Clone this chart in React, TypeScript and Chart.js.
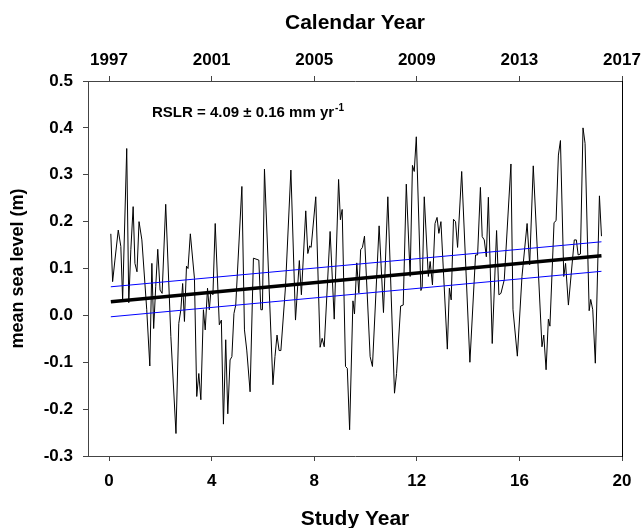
import React, { useEffect, useRef } from "react";
import { Chart, registerables } from "chart.js";

Chart.register(...registerables);

// Monthly mean sea level (m) vs study year (vertices)
const studyYears = [
  0.07, 0.14, 0.23, 0.36, 0.46, 0.53, 0.69, 0.77, 0.85, 0.94,
  1.01, 1.09, 1.17, 1.28, 1.47, 1.59, 1.67, 1.74, 1.82, 1.9,
  1.99, 2.07, 2.21, 2.41, 2.61, 2.72, 2.8, 2.87, 2.94, 3.02,
  3.08, 3.17, 3.33, 3.42, 3.5, 3.58, 3.68, 3.75, 3.84, 3.91,
  3.97, 4.05, 4.14, 4.3, 4.38, 4.46, 4.55, 4.63, 4.72, 4.79,
  4.87, 4.94, 5.18, 5.28, 5.37, 5.5, 5.63, 5.84, 5.92, 5.98,
  6.06, 6.39, 6.47, 6.55, 6.63, 6.7, 6.88, 7.09, 7.27, 7.42,
  7.5, 7.67, 7.75, 7.82, 7.88, 8.06, 8.23, 8.31, 8.39, 8.62,
  8.78, 8.95, 9.02, 9.09, 9.22, 9.29, 9.38, 9.51, 9.57, 9.66,
  9.74, 9.81, 9.88, 9.96, 10.18, 10.27, 10.53, 10.7, 10.87, 11.13,
  11.21, 11.37, 11.47, 11.59, 11.74, 11.83, 11.9, 11.98, 12.16, 12.21,
  12.29, 12.45, 12.52, 12.61, 12.71, 12.79, 12.86, 12.94, 13.19, 13.27,
  13.34, 13.43, 13.51, 13.59, 13.75, 14.07, 14.29, 14.37, 14.48, 14.55,
  14.63, 14.71, 14.79, 14.94, 15.11, 15.2, 15.28, 15.41, 15.67, 15.75,
  15.92, 16.1, 16.3, 16.4, 16.54, 16.88, 16.95, 17.04, 17.13, 17.19,
  17.35, 17.43, 17.52, 17.6, 17.73, 17.8, 17.91, 18.14, 18.22, 18.29,
  18.38, 18.48, 18.56, 18.72, 18.78, 18.86, 18.96, 19.12, 19.2,
];

const seaLevel = [
  0.174, 0.072, 0.118, 0.182, 0.147, 0.033, 0.356, 0.027, 0.14, 0.232,
  0.111, 0.093, 0.2, 0.161, 0.012, -0.108, 0.111, -0.028, 0.061, 0.141,
  0.054, 0.047, 0.237, -0.045, -0.252, -0.017, 0.012, 0.068, -0.013, 0.105,
  0.1, 0.174, 0.079, -0.173, -0.124, -0.18, 0.012, -0.031, 0.058, 0.012,
  0.051, 0.044, 0.196, -0.02, -0.01, -0.232, -0.052, -0.21, -0.095, -0.088,
  0.004, 0.022, 0.275, -0.031, -0.074, -0.163, 0.122, 0.118, 0.012, 0.012,
  0.312, -0.148, -0.088, -0.042, -0.075, -0.075, 0.061, 0.31, -0.01, 0.117,
  0.044, 0.223, 0.132, 0.148, 0.145, 0.253, -0.068, -0.049, -0.067, 0.179,
  -0.008, 0.29, 0.204, 0.226, -0.109, -0.113, -0.244, 0.031, 0.003, 0.112,
  0.048, 0.14, 0.145, 0.169, -0.088, -0.109, 0.191, 0.006, 0.253, -0.166,
  -0.124, 0.02, 0.022, 0.28, 0.083, 0.32, 0.307, 0.381, 0.053, 0.061,
  0.253, 0.083, 0.115, 0.065, 0.196, 0.209, 0.175, 0.2, -0.072, 0.058,
  0.033, 0.205, 0.2, 0.145, 0.307, -0.1, 0.129, 0.129, 0.273, 0.168,
  0.161, 0.125, 0.252, -0.06, 0.181, 0.044, 0.047, 0.076, 0.323, 0.012,
  -0.087, 0.083, 0.196, 0.108, 0.319, -0.067, -0.042, -0.116, -0.008, -0.023,
  0.198, 0.202, 0.342, 0.373, 0.083, 0.111, 0.022, 0.161, 0.161, 0.129,
  0.131, 0.4, 0.367, 0.01, 0.034, 0.012, -0.102, 0.255, 0.169,
];

// Linear trend and its confidence band (end points)
const trendYears = [0.07, 19.2];
const trendFit = [0.029, 0.127];
const trendUpper = [0.061, 0.157];
const trendLower = [-0.003, 0.094];

// Axis ticks
const studyYearTicks = [0, 4, 8, 12, 16, 20];
const calendarYearLabels = ["1997", "2001", "2005", "2009", "2013", "2017"];
const levelTicks = [-0.3, -0.2, -0.1, 0, 0.1, 0.2, 0.3, 0.4, 0.5];
const levelTickLabels = ["-0.3", "-0.2", "-0.1", "0.0", "0.1", "0.2", "0.3", "0.4", "0.5"];

const FONT = '"Liberation Sans", Arial, Helvetica, sans-serif';
const AXIS_COLOR = "#444";

const toPoints = (xs: number[], ys: number[]) => xs.map((x, i) => ({ x, y: ys[i] }));

const textPlugin = {
  id: "textPlugin",
  afterDraw(chart: any) {
    const { ctx, chartArea } = chart;
    const cx = (chartArea.left + chartArea.right) / 2;
    ctx.save();
    ctx.fillStyle = "#000";
    ctx.font = `bold 21px ${FONT}`;
    ctx.textAlign = "center";
    ctx.textBaseline = "alphabetic";
    ctx.fillText("Calendar Year", cx, 29);
    ctx.fillText("Study Year", cx, 525);

    ctx.save();
    ctx.translate(18, (chartArea.top + chartArea.bottom) / 2);
    ctx.rotate(-Math.PI / 2);
    ctx.font = `bold 18px ${FONT}`;
    ctx.textBaseline = "middle";
    ctx.fillText("mean sea level (m)", 0, 0);
    ctx.restore();

    ctx.textAlign = "left";
    ctx.font = `bold 15px ${FONT}`;
    const main = "RSLR = 4.09 \u00B1 0.16 mm yr";
    ctx.fillText(main, 152, 117);
    const w = ctx.measureText(main).width;
    ctx.font = `bold 10px ${FONT}`;
    ctx.fillText("-1", 152 + w + 1, 111);
    ctx.restore();
  },
};

const zeroPad = (s: any) => {
  s.paddingLeft = 0;
  s.paddingRight = 0;
  s.paddingTop = 0;
  s.paddingBottom = 0;
};

export default function App() {
  const ref = useRef<HTMLCanvasElement>(null);

  useEffect(() => {
    if (!ref.current) return;
    const tickFont = { family: FONT, size: 17, weight: "bold" as const };
    const grid = {
      display: true,
      drawOnChartArea: false,
      drawTicks: true,
      tickLength: 5,
      color: AXIS_COLOR,
      lineWidth: 1,
    };
    const border = { display: true, color: AXIS_COLOR, width: 1 };

    const chart = new Chart(ref.current, {
      type: "line",
      data: {
        datasets: [
          {
            data: toPoints(trendYears, trendFit),
            borderColor: "#000",
            borderWidth: 3.5,
            pointRadius: 0,
            xAxisID: "x",
            yAxisID: "y",
          },
          {
            data: toPoints(trendYears, trendUpper),
            borderColor: "#0000ff",
            borderWidth: 1,
            pointRadius: 0,
            xAxisID: "x",
            yAxisID: "y",
          },
          {
            data: toPoints(trendYears, trendLower),
            borderColor: "#0000ff",
            borderWidth: 1,
            pointRadius: 0,
            xAxisID: "x",
            yAxisID: "y",
          },
          {
            data: toPoints(studyYears, seaLevel),
            borderColor: "#000",
            borderWidth: 1,
            pointRadius: 0,
            tension: 0,
            xAxisID: "x",
            yAxisID: "y",
          },
        ],
      },
      options: {
        responsive: false,
        animation: false,
        devicePixelRatio: 1,
        layout: { padding: { left: 0, right: 19, top: 0, bottom: 0 } },
        plugins: {
          legend: { display: false },
          tooltip: { enabled: false },
          title: { display: false },
        },
        scales: {
          x: {
            type: "linear",
            position: "bottom",
            min: -0.82,
            max: 20,
            afterBuildTicks: (s: any) => {
              s.ticks = studyYearTicks.map((v) => ({ value: v }));
            },
            ticks: {
              font: tickFont,
              color: "#000",
              padding: 10,
              maxRotation: 0,
              autoSkip: false,
              callback: (v: any, i: number) => String(studyYearTicks[i]),
            },
            grid,
            border,
            afterFit: (s: any) => {
              s.height = 72;
              zeroPad(s);
            },
          },
          x2: {
            type: "linear",
            position: "top",
            min: -0.82,
            max: 20,
            afterBuildTicks: (s: any) => {
              s.ticks = studyYearTicks.map((v) => ({ value: v }));
            },
            ticks: {
              font: tickFont,
              color: "#000",
              padding: 5,
              maxRotation: 0,
              autoSkip: false,
              callback: (v: any, i: number) => calendarYearLabels[i],
            },
            grid,
            border,
            afterFit: (s: any) => {
              s.height = 81;
              zeroPad(s);
            },
          },
          y: {
            type: "linear",
            position: "left",
            min: -0.3,
            max: 0.5,
            afterBuildTicks: (s: any) => {
              s.ticks = levelTicks.map((v) => ({ value: v }));
            },
            ticks: {
              font: tickFont,
              color: "#000",
              padding: 10,
              autoSkip: false,
              callback: (v: any, i: number) => levelTickLabels[i],
            },
            grid,
            border,
            afterFit: (s: any) => {
              s.width = 88;
              zeroPad(s);
            },
          },
          y2: {
            type: "linear",
            position: "right",
            display: true,
            min: -0.3,
            max: 0.5,
            ticks: { display: false },
            grid: { display: false, drawTicks: false },
            border: { display: true, color: "#000", width: 1 },
            afterFit: (s: any) => {
              s.width = 0;
              zeroPad(s);
            },
          },
        },
      },
      plugins: [textPlugin],
    });
    return () => chart.destroy();
  }, []);

  return (
    <div style={{ position: "fixed", left: 0, top: 0, width: 641, height: 528, background: "#fff" }}>
      <canvas ref={ref} width={641} height={528} style={{ display: "block" }} />
    </div>
  );
}
